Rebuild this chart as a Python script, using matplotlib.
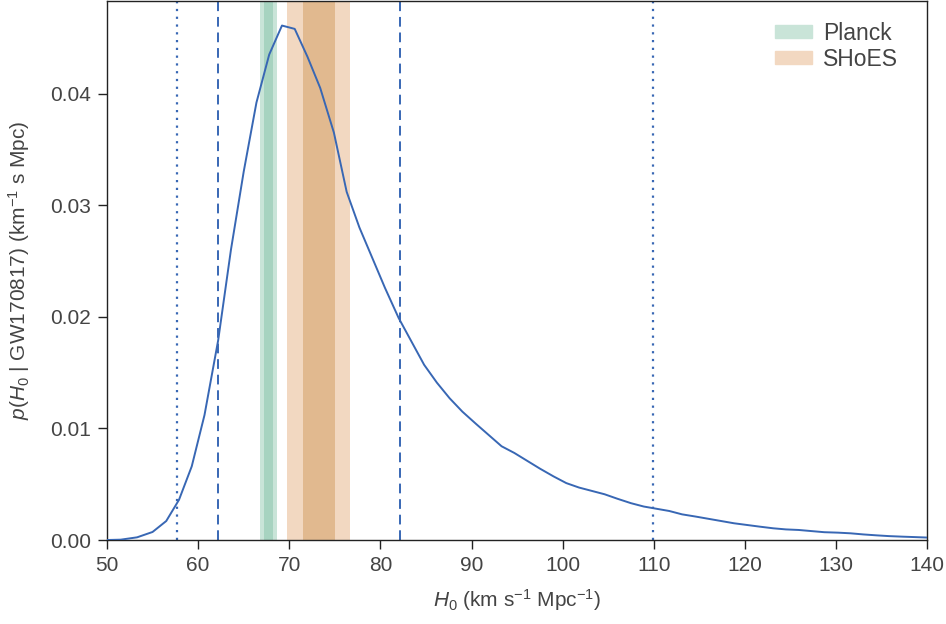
import numpy as np
import matplotlib
matplotlib.use('Agg')
import matplotlib.pyplot as plt
from matplotlib.patches import Patch

plt.rcParams['font.family'] = ['Liberation Sans', 'DejaVu Sans']
plt.rcParams['mathtext.fontset'] = 'custom'
plt.rcParams['mathtext.rm'] = 'Liberation Sans'
plt.rcParams['mathtext.it'] = 'Liberation Sans:italic'

# posterior p(H0 | GW170817)
h0 = [50.0, 51.5, 53.3, 55.0, 56.5, 57.9, 59.3, 60.7, 62.2, 63.6, 65.0, 66.4,
      67.8, 69.2, 70.6, 72.0, 73.4, 74.9, 76.3, 77.7, 79.1, 80.5, 82.0, 83.4,
      84.8, 86.2, 87.6, 89.0, 90.5, 91.9, 93.3, 94.7, 96.1, 97.5, 99.0, 100.4,
      101.8, 103.2, 104.6, 106.0, 107.5, 108.9, 110.3, 111.7, 113.1, 114.6,
      116.0, 117.4, 118.8, 120.2, 121.6, 123.1, 124.5, 125.9, 127.3, 128.7,
      130.2, 131.6, 133.0, 134.4, 135.8, 137.3, 138.7, 140.0]
post = [0.0, 0.00003, 0.00024, 0.00072, 0.0017, 0.0036, 0.0066, 0.0112,
        0.0179, 0.0260, 0.0330, 0.0392, 0.0435, 0.0461, 0.0458, 0.0433,
        0.0405, 0.0365, 0.0312, 0.0280, 0.0253, 0.0226, 0.0199, 0.0178,
        0.0157, 0.0141, 0.0127, 0.0115, 0.0104, 0.0094, 0.0084, 0.0078,
        0.0071, 0.0064, 0.0057, 0.0051, 0.0047, 0.0044, 0.0041, 0.0037,
        0.0033, 0.0030, 0.0028, 0.0026, 0.0023, 0.0021, 0.0019, 0.0017,
        0.0015, 0.00135, 0.0012, 0.00105, 0.00095, 0.0009, 0.0008, 0.0007,
        0.00066, 0.0006, 0.0005, 0.00042, 0.00035, 0.0003, 0.00026, 0.00022]

ci68 = [62.2, 82.2]     # dashed
ci95 = [57.7, 109.9]    # dotted

planck_mu, planck_sig = 67.74, 0.46
shoes_mu, shoes_sig = 73.24, 1.74

blue = '#3867b4'
txt = '#444444'

fig = plt.figure(figsize=(9.46, 6.24), dpi=100)
ax = fig.add_axes([0.1131, 0.1346, 0.8670, 0.8638])

# bands: 2 sigma light, 1 sigma darker
ax.axvspan(planck_mu - 2*planck_sig, planck_mu + 2*planck_sig, color='#c9e4d8', lw=0, zorder=1)
ax.axvspan(planck_mu - planck_sig, planck_mu + planck_sig, color='#a7d3c0', lw=0, zorder=1)
ax.axvspan(shoes_mu - 2*shoes_sig, shoes_mu + 2*shoes_sig, color='#f2d8c1', lw=0, zorder=1)
ax.axvspan(shoes_mu - shoes_sig, shoes_mu + shoes_sig, color='#e1b98f', lw=0, zorder=1)

for v in ci68:
    ax.axvline(v, color=blue, ls=(0, (5, 3)), lw=1.4, zorder=2)
for v in ci95:
    ax.axvline(v, color=blue, ls=(0, (1, 2.5)), lw=1.6, zorder=2)

ax.plot(h0, post, color=blue, lw=1.4, zorder=3)

ax.set_xlim(50, 140)
ax.set_ylim(0, 0.0483)
ax.set_xticks(np.arange(50, 141, 10))
ax.set_yticks([0.0, 0.01, 0.02, 0.03, 0.04])
ax.set_yticklabels(['0.00', '0.01', '0.02', '0.03', '0.04'])
ax.tick_params(direction='out', length=6.5, width=1, color='#222222',
               labelsize=15, labelcolor=txt, pad=5)
for s in ax.spines.values():
    s.set_linewidth(1.0)
    s.set_color('#222222')

ax.set_xlabel(r'$H_0$ (km s$^{-1}$ Mpc$^{-1}$)', fontsize=15, color=txt, labelpad=9)
ax.set_ylabel(r'$p$($H_0$ | GW170817) (km$^{-1}$ s Mpc)', fontsize=15, color=txt, labelpad=13)

handles = [Patch(color='#c9e4d8', label='Planck'), Patch(color='#f2d8c1', label='SHoES')]
leg = ax.legend(handles=handles, loc='upper right', bbox_to_anchor=(0.976, 0.978),
                frameon=False, fontsize=16.5, handlelength=1.6, handleheight=0.5,
                labelcolor=txt, borderaxespad=0, handletextpad=0.5, labelspacing=0.12)

fig.savefig('out.png', dpi=100)
